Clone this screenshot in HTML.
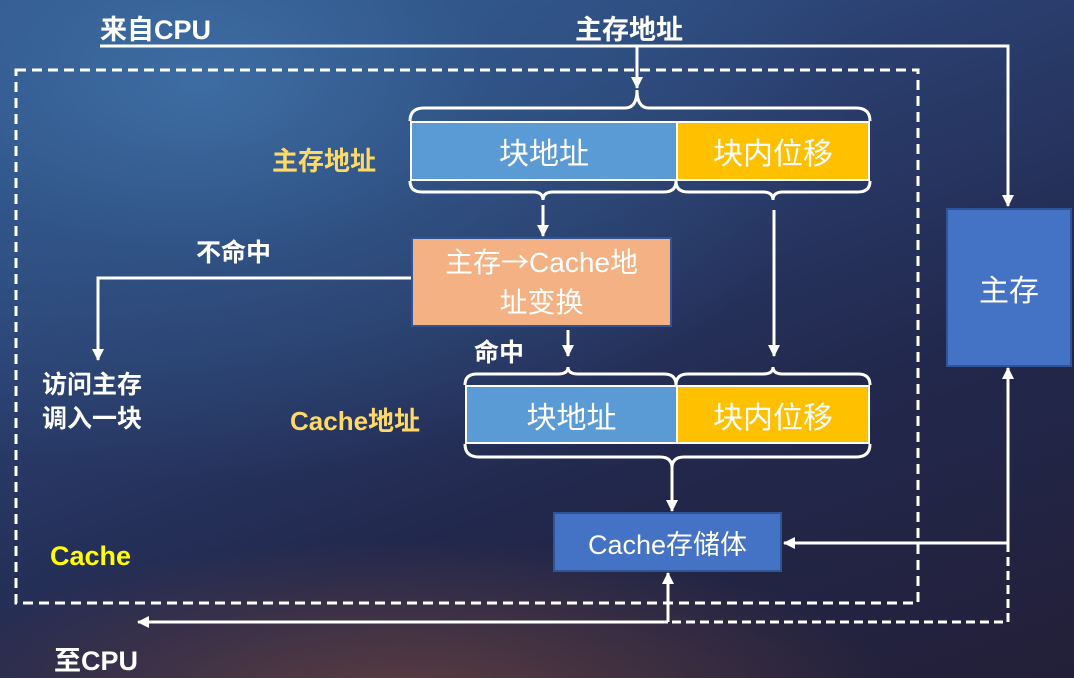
<!DOCTYPE html>
<html><head><meta charset="utf-8"><style>
html,body{margin:0;padding:0}
body{width:1074px;height:678px;overflow:hidden;position:relative;font-family:"Liberation Sans","Noto Sans CJK SC",sans-serif;
background:
radial-gradient(ellipse 500px 160px at 400px 700px, rgba(140,80,60,0.55), rgba(0,0,0,0)),
radial-gradient(ellipse 650px 400px at 200px 80px, #3d6da3 0%, rgba(50,90,140,0.6) 45%, rgba(0,0,0,0) 100%),
linear-gradient(160deg,#35609a 0%,#2a3e6e 35%,#22284d 65%,#231f38 100%);}
.t{position:absolute;white-space:nowrap}
.b{font-weight:bold}
.box{position:absolute;display:flex;align-items:center;justify-content:center;color:#fff;font-size:30px;box-sizing:border-box}
svg{position:absolute;left:0;top:0}
</style></head><body>
<div class="box" style="left:410px;top:121px;width:266px;height:60px;background:#5b9bd5;border:2px solid #fff;border-right:none">块地址</div>
<div class="box" style="left:676px;top:121px;width:194px;height:60px;background:#ffc000;border:2px solid #fff">块内位移</div>
<div class="box" style="left:411px;top:237px;width:261px;height:90px;background:#f4b183;border:2px solid #2f5597;font-size:28px;line-height:40px;text-align:center;flex-direction:column"><div>主存<span style="font-family:'Noto Sans CJK SC',sans-serif">→</span>Cache地</div><div>址变换</div></div>
<div class="box" style="left:465px;top:385px;width:211px;height:59px;background:#5b9bd5;border:2px solid #fff;border-right:none">块地址</div>
<div class="box" style="left:676px;top:385px;width:194px;height:59px;background:#ffc000;border:2px solid #fff">块内位移</div>
<div class="box" style="left:553px;top:512px;width:229px;height:60px;background:#4472c4;border:2px solid #2f5597;font-size:27px">Cache存储体</div>
<div class="box" style="left:946px;top:208px;width:126px;height:159px;background:#4472c4;border:2px solid #2f5597;font-size:30px">主存</div>
<svg width="1074" height="678" viewBox="0 0 1074 678">
<defs><marker id="a" markerWidth="12" markerHeight="12" refX="11" refY="6" orient="auto" markerUnits="userSpaceOnUse"><path d="M0,0 L12,6 L0,12 z" fill="#fff"/></marker></defs>
<g fill="none" stroke="#fff" stroke-width="3">
<rect x="16" y="70" width="902" height="533" stroke-dasharray="10,6"/>
<path d="M410,121 Q410,108 424,108 L625,108 Q637,108 637,90 Q637,108 649,108 L856,108 Q870,108 870,121"/>
<path d="M410,181 Q410,192 422,192 L533,192 Q543,192 543,200 Q543,192 553,192 L664,192 Q676,192 676,181"/>
<path d="M676,181 Q676,192 688,192 L763,192 Q773,192 773,200 Q773,192 783,192 L858,192 Q870,192 870,181"/>
<path d="M465,385 Q465,374 477,374 L558,374 Q568,374 568,367 Q568,374 578,374 L664,374 Q676,374 676,385"/>
<path d="M676,385 Q676,374 688,374 L763,374 Q773,374 773,367 Q773,374 783,374 L858,374 Q870,374 870,385"/>
<path d="M465,444 Q465,457 479,457 L660,457 Q672,457 672,468 Q672,457 684,457 L856,457 Q870,457 870,444"/>
<path d="M100,46 L1008,46 L1008,206" marker-end="url(#a)"/>
<path d="M637,46 L637,88" marker-end="url(#a)"/>
<path d="M543,205 L543,236" marker-end="url(#a)"/>
<path d="M774,210 L774,356" marker-end="url(#a)"/>
<path d="M568,330 L568,356" marker-end="url(#a)"/>
<path d="M672,468 L672,511" marker-end="url(#a)"/>
<path d="M411,278 L98,278 L98,360" marker-end="url(#a)"/>
<path d="M1008,543 L1008,368" marker-end="url(#a)"/>
<path d="M1008,543 L784,543" marker-end="url(#a)"/>
<path d="M1008,543 L1008,622 L668,622" stroke-dasharray="9,5"/>
<path d="M668,622 L138,622" marker-end="url(#a)"/>
<path d="M668,622 L668,573" marker-end="url(#a)"/>
</g></svg>
<div class="t b" style="left:100px;top:8px;font-size:27px;color:#fff">来自CPU</div>
<div class="t b" style="left:575px;top:8px;font-size:27px;color:#fff">主存地址</div>
<div class="t b" style="left:272px;top:141px;font-size:26px;color:#ffd966">主存地址</div>
<div class="t b" style="left:196px;top:233px;font-size:25px;color:#fff">不命中</div>
<div class="t b" style="left:474px;top:333px;font-size:25px;color:#fff">命中</div>
<div class="t b" style="left:42px;top:368px;font-size:25px;color:#fff;line-height:34px">访问主存<br>调入一块</div>
<div class="t b" style="left:290px;top:401px;font-size:26px;color:#ffd966">Cache地址</div>
<div class="t b" style="left:50px;top:541px;font-size:27px;color:#ffff00">Cache</div>
<div class="t b" style="left:54px;top:639px;font-size:27px;color:#fff">至CPU</div>
</body></html>
